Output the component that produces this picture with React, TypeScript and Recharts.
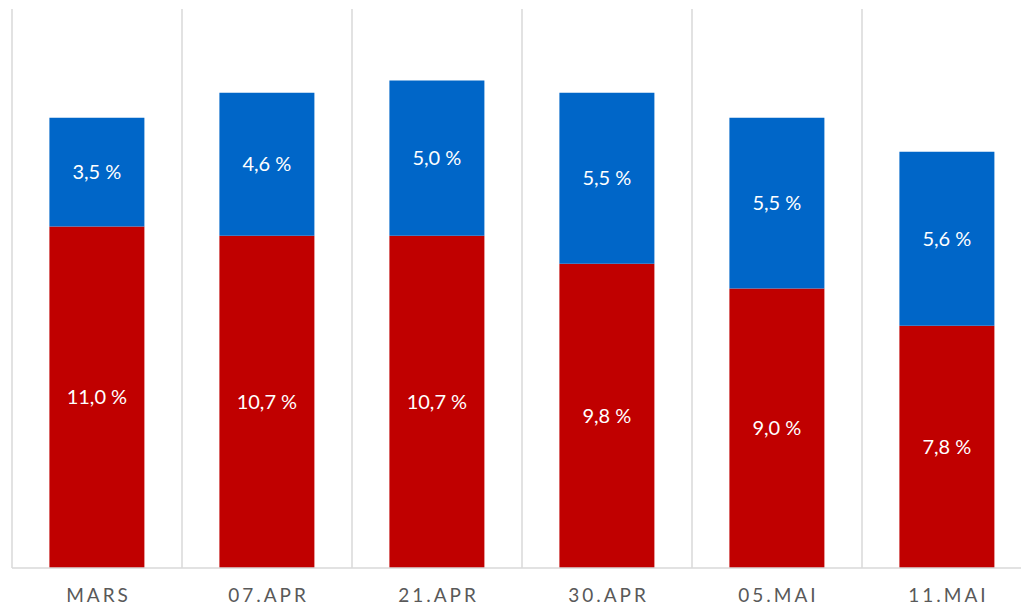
import React from 'react';
import { BarChart, Bar, XAxis, YAxis, CartesianGrid, LabelList } from 'recharts';

const categories = ['MARS', '07.APR', '21.APR', '30.APR', '05.MAI', '11.MAI'];
const redValues = [11.0, 10.7, 10.7, 9.8, 9.0, 7.8];
const blueValues = [3.5, 4.6, 5.0, 5.5, 5.5, 5.6];

const data = categories.map((name, i) => ({ name, red: redValues[i], blue: blueValues[i] }));

const FONT = 'Lato, "Open Sans", sans-serif';

const fmt = (v: any) => Number(v).toFixed(1).replace('.', ',') + ' %';

const AxisTick = ({ x, y, payload }: any) => (
  <text
    x={x + 1.5}
    y={y}
    dy={26}
    textAnchor="middle"
    fill="#595959"
    fontSize={19}
    fontFamily={FONT}
    letterSpacing={3}
  >
    {payload.value}
  </text>
);

// vertical gridlines sit on the category boundaries, not the centres
const boundaryLines = ({ offset }: any) =>
  categories.map((_, i) => offset.left + (i * offset.width) / categories.length).concat(offset.left + offset.width);

const App: React.FC = () => (
  <div style={{ position: 'fixed', left: 0, top: 0, width: 1021, height: 608, overflow: 'hidden', background: '#fff' }}>
    <BarChart
      width={1045}
      height={608}
      data={data}
      margin={{ top: 9, right: 13, bottom: 0, left: 12 }}
      barCategoryGap="22%"
    >
      <CartesianGrid horizontal={false} stroke="#d9d9d9" strokeWidth={1.5} verticalCoordinatesGenerator={boundaryLines} />
      <XAxis
        dataKey="name"
        height={40}
        axisLine={{ stroke: '#d9d9d9', strokeWidth: 1.5 }}
        tickLine={false}
        tick={<AxisTick />}
        interval={0}
      />
      <YAxis hide domain={[0, 18]} type="number" />
      <Bar dataKey="red" stackId="a" fill="#C00000" isAnimationActive={false}>
        <LabelList dataKey="red" position="center" fill="#ffffff" fontSize={20} fontFamily={FONT} formatter={fmt} />
      </Bar>
      <Bar dataKey="blue" stackId="a" fill="#0066C8" isAnimationActive={false}>
        <LabelList dataKey="blue" position="center" fill="#ffffff" fontSize={20} fontFamily={FONT} formatter={fmt} />
      </Bar>
    </BarChart>
  </div>
);

export default App;
